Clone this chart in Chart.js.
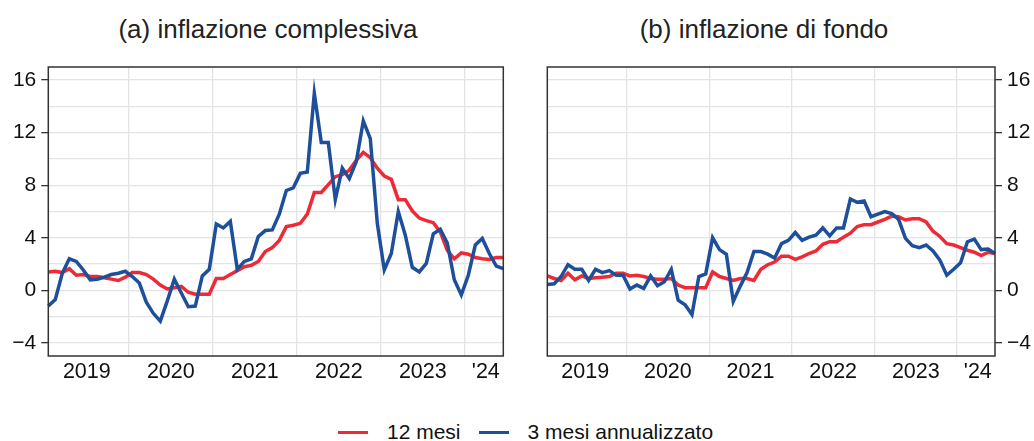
<!DOCTYPE html>
<html>
<head>
<meta charset="utf-8">
<script src="https://cdn.jsdelivr.net/npm/chart.js@4.4.1/dist/chart.umd.min.js"></script>
<style>
    body { margin: 0; background: #fff; font-family: "Liberation Sans", Arial, sans-serif; color: #222; }
    #page { position: relative; width: 1034px; height: 441px; }
    .box { position: absolute; }
    .title { position: absolute; font-size: 26px; line-height: 30px; white-space: nowrap; transform: translateX(-50%); }
    #legend { position: absolute; top: 419px; left: 338px; height: 26px; font-size: 21px; white-space: nowrap; display: flex; align-items: center; color: #111; }
    .swatch { display: inline-block; width: 30px; height: 3px; margin-right: 19px; }
</style>
</head>
<body>
<div id="page">
    <div class="title" style="left:268px; top:14px;">(a) inflazione complessiva</div>
    <div class="title" style="left:764px; top:14px;">(b) inflazione di fondo</div>
    <div class="box" style="left:0; top:60px; width:520px; height:330px;"><canvas id="chartA"></canvas></div>
    <div class="box" style="left:530px; top:60px; width:504px; height:330px;"><canvas id="chartB"></canvas></div>
    <div id="legend">
        <span class="swatch" style="background:#ee2a36"></span><span style="margin-right:18px">12 mesi</span>
        <span class="swatch" style="background:#1d4f9b"></span><span>3 mesi annualizzato</span>
    </div>
</div>
<script>
// monthly observations, Jan 2019 - Jun 2024
const years = [2019, 2020, 2021, 2022, 2023, 2024];
const yearLabels = ["2019", "2020", "2021", "2022", "2023", "'24"];
const lastMonth = 6; // data ends June 2024
const yTicks = [-4, -2, 0, 2, 4, 6, 8, 10, 12, 14, 16];

// (a) headline inflation
const headline12 = [
    1.4, 1.45, 1.35, 1.65, 1.15, 1.2, 1.05, 1.05, 0.95, 0.85, 0.75, 1.0,
    1.35, 1.35, 1.2, 0.85, 0.4, 0.1, 0.2, 0.3, -0.15, -0.3, -0.3, -0.3,
    0.9, 0.9, 1.2, 1.5, 1.8, 1.9, 2.2, 2.95, 3.25, 3.8, 4.85, 4.95,
    5.1, 5.8, 7.45, 7.45, 8.05, 8.65, 8.8, 9.15, 9.9, 10.5, 10.1, 9.3,
    8.7, 8.45, 6.9, 6.9, 6.05, 5.5, 5.3, 5.15, 4.45, 3.05, 2.4, 2.85,
    2.75, 2.5, 2.4, 2.35, 2.5, 2.5
];
const headline3 = [
    -1.2, -0.7, 1.3, 2.4, 2.2, 1.55, 0.8, 0.85, 1.0, 1.2, 1.3, 1.45,
    1.05, 0.55, -0.9, -1.75, -2.35, -0.8, 0.85, -0.2, -1.25, -1.2, 1.1, 1.6,
    5.05, 4.75, 5.25, 1.6, 2.2, 2.4, 4.1, 4.55, 4.6, 5.8, 7.6, 7.8,
    8.9, 9.0, 15.0, 11.25, 11.25, 6.9, 9.3, 8.5, 9.8, 12.9, 11.55, 5.1,
    1.55, 2.8, 6.0, 4.2, 1.75, 1.4, 2.05, 4.3, 4.65, 3.6, 0.8, -0.35,
    1.15, 3.45, 3.95, 2.8, 1.85, 1.65
];

// (b) core inflation
const core12 = [
    1.1, 0.9, 0.75, 1.3, 0.8, 1.1, 0.9, 0.95, 1.0, 1.05, 1.3, 1.3,
    1.1, 1.15, 1.05, 0.9, 0.85, 0.85, 0.9, 0.4, 0.2, 0.2, 0.2, 0.2,
    1.4, 1.05, 0.9, 0.75, 0.9, 0.9, 0.75, 1.6, 1.95, 2.15, 2.6, 2.6,
    2.35, 2.55, 2.8, 3.0, 3.5, 3.7, 3.7, 4.05, 4.35, 4.85, 5.0, 5.0,
    5.2, 5.4, 5.65, 5.6, 5.35, 5.45, 5.45, 5.2, 4.5, 4.1, 3.55, 3.45,
    3.25, 3.05, 2.9, 2.65, 2.9, 2.8
];
const core3 = [
    0.45, 0.5, 1.05, 1.95, 1.6, 1.6, 0.75, 1.6, 1.35, 1.5, 1.15, 1.15,
    0.1, 0.4, 0.15, 1.1, 0.35, 0.65, 1.6, -0.75, -1.1, -1.85, 1.05, 1.25,
    4.0, 3.1, 2.75, -0.85, 0.3, 1.35, 2.95, 2.95, 2.75, 2.45, 3.55, 3.8,
    4.4, 3.8, 4.05, 4.2, 4.75, 4.15, 4.75, 4.75, 6.95, 6.7, 6.8, 5.6,
    5.8, 6.0, 5.85, 5.4, 3.95, 3.4, 3.25, 3.45, 3.0, 2.3, 1.15, 1.6,
    2.1, 3.7, 3.9, 3.1, 3.15, 2.8
];

const RED = "#ee2a36";
const BLUE = "#1d4f9b";
const GRID = "#e4e4e4";
const AXIS = "#333333";

const months = [];
years.forEach((y) => {
    const n = y === years[years.length - 1] ? lastMonth : 12;
    for (let m = 1; m <= n; m++) {
        months.push(y + "-" + String(m).padStart(2, "0"));
    }
});

// centre of each year's run of months, for the year labels
const yearCentres = years.map((y) => {
    const idx = months.map((m, i) => (m.startsWith(String(y)) ? i : -1)).filter((i) => i >= 0);
    return (idx[0] + idx[idx.length - 1]) / 2;
});

const frame = {
    id: "frame",
    afterDraw(chart) {
        const a = chart.chartArea;
        const ctx = chart.ctx;
        ctx.save();
        ctx.strokeStyle = AXIS;
        ctx.lineWidth = 1.5;
        ctx.strokeRect(a.left, a.top, a.right - a.left, a.bottom - a.top);
        ctx.restore();
    }
};

function fmt(v) {
    return v < 0 ? "\u2212" + Math.abs(v) : String(v);
}

function makeChart(id, s12, s3, side, pad, axisWidth) {
    const ctx = document.getElementById(id).getContext("2d");
    return new Chart(ctx, {
        type: "line",
        data: {
            labels: months,
            datasets: [
                {
                    label: "3 mesi annualizzato",
                    data: s3,
                    borderColor: BLUE,
                    borderWidth: 3.5,
                    pointRadius: 0,
                    tension: 0,
                    order: 1
                },
                {
                    label: "12 mesi",
                    data: s12,
                    borderColor: RED,
                    borderWidth: 3.5,
                    pointRadius: 0,
                    tension: 0,
                    order: 2
                }
            ]
        },
        options: {
            responsive: true,
            maintainAspectRatio: false,
            animation: false,
            layout: { padding: pad },
            plugins: {
                legend: { display: false },
                tooltip: { enabled: false }
            },
            scales: {
                x: {
                    type: "category",
                    offset: false,
                    border: { display: false },
                    grid: {
                        offset: true,
                        drawTicks: false,
                        color: (c) => (c.tick && String(c.tick.label).endsWith("-01") ? GRID : "rgba(0,0,0,0)"),
                        lineWidth: 1.3
                    },
                    ticks: { display: false, autoSkip: false },
                    afterFit: (s) => { s.height = 0; }
                },
                xl: {
                    type: "linear",
                    position: "bottom",
                    min: 0,
                    max: months.length - 1,
                    border: { display: false },
                    grid: { display: false },
                    afterBuildTicks: (s) => { s.ticks = yearCentres.map((v) => ({ value: v })); },
                    ticks: {
                        autoSkip: false,
                        maxRotation: 0,
                        padding: -5,
                        color: "#111",
                        font: { family: "Liberation Sans", size: 21.5 },
                        callback: (v, i) => yearLabels[i]
                    },
                    afterFit: (s) => { s.height = 34; s.paddingLeft = 0; s.paddingRight = 0; }
                },
                y: {
                    position: side,
                    min: -5,
                    max: 17,
                    border: { display: false },
                    afterBuildTicks: (s) => { s.ticks = yTicks.map((v) => ({ value: v })); },
                    grid: {
                        color: GRID,
                        lineWidth: 1.3,
                        tickLength: 7,
                        tickColor: (c) => (c.tick && c.tick.value % 4 === 0 ? AXIS : "rgba(0,0,0,0)"),
                        tickWidth: 1.3
                    },
                    ticks: {
                        padding: 5,
                        color: "#111",
                        font: { family: "Liberation Sans", size: 21 },
                        callback: (v) => (v % 4 === 0 ? fmt(v) : "")
                    },
                    afterFit: (s) => { s.width = axisWidth; s.paddingTop = 0; s.paddingBottom = 0; }
                }
            }
        },
        plugins: [frame]
    });
}

makeChart("chartA", headline12, headline3, "left", { top: 7, right: 16.7, left: 0, bottom: 0 }, 48.3);
makeChart("chartB", core12, core3, "right", { top: 7, right: 0, left: 17.3, bottom: 0 }, 39);
</script>
</body>
</html>
